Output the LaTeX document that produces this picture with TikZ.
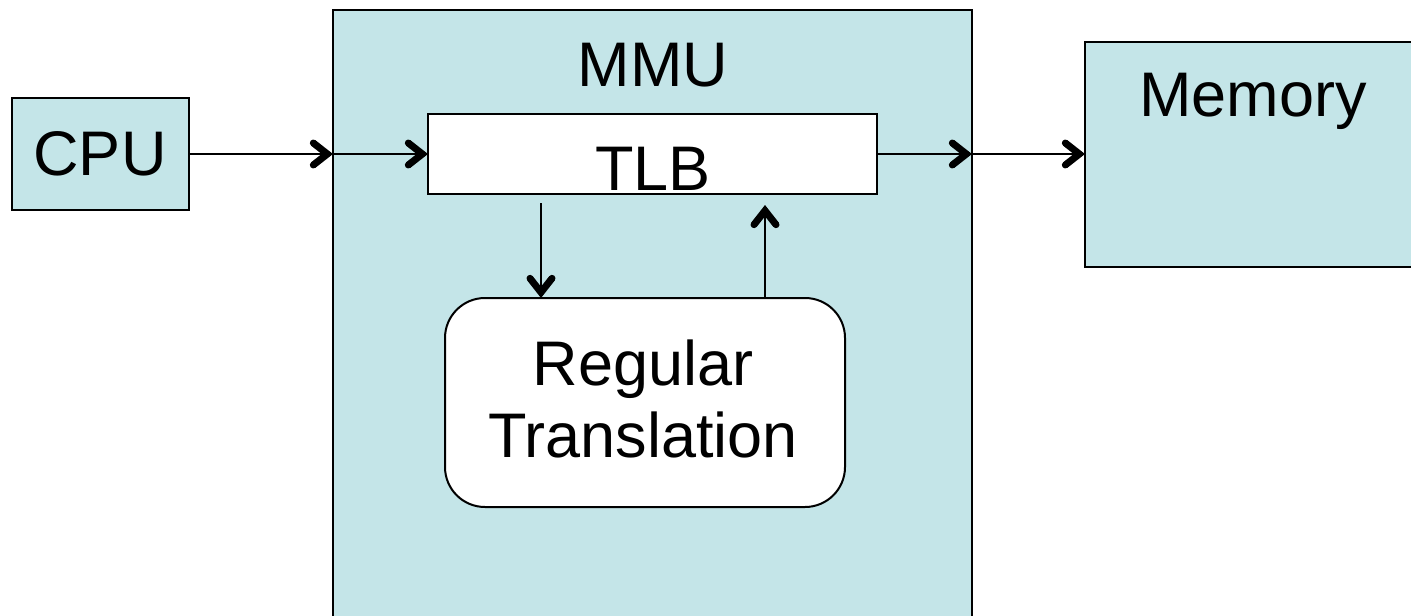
\documentclass[tikz,border=0pt]{standalone}
\usepackage{fontspec}
\setmainfont{Liberation Sans}
\usetikzlibrary{arrows.meta,fit}
\definecolor{boxfill}{HTML}{C4E5E8}
\begin{document}
\begin{tikzpicture}[x=0.5pt,y=-0.5pt,
  box/.style={draw, line width=1pt, fill=boxfill, inner sep=0pt, outer sep=0pt},
  wbox/.style={box, fill=white},
  lbl/.style={font=\fontsize{31.5}{36}\selectfont, inner sep=0pt, anchor=base},
  conn/.style={line width=1pt, -{Straight Barb[length=7pt,width=11pt,line width=3.5pt,line cap=round]}}]
\useasboundingbox (0,0) rectangle (1411,615);
\clip (0,0) rectangle (1411,615);
\fill[white] (0,0) rectangle (1411,615);
\node[box, fit={(12,98) (189,210)}] (cpu) {};
\node[box, fit={(333,10) (972,650)}] (mmu) {};
\node[box, fit={(1085,42) (1450,267)}] (mem) {};
\node[wbox, fit={(428,114) (877,194)}] (tlb) {};
\node[wbox, rounded corners=20pt, fit={(445,298) (845,507)}] (rt) {};
\node[lbl] (cput) at (100,175) {CPU};
\node[lbl] (mmut) at (653,87) {MMU};
\node[lbl] (tlbt) at (653,190) {TLB};
\node[lbl, align=center, anchor=north] (rtt) at (643,339) {Regular\\Translation};
\node[lbl] (memt) at (1253,117) {Memory};
\coordinate (d1) at (541,203);
\coordinate (u1) at (765,205);
\draw[conn] (cpu.east) -- (cpu.east -| mmu.west);
\draw[conn] (cpu.east -| mmu.west) -- (tlb.west);
\draw[conn] (tlb.east) -- (tlb.east -| mmu.east);
\draw[conn] (tlb.east -| mmu.east) -- (tlb.east -| mem.west);
\draw[conn] (d1) -- (d1 |- rt.north);
\draw[conn] (u1 |- rt.north) -- (u1);
\end{tikzpicture}
\end{document}
